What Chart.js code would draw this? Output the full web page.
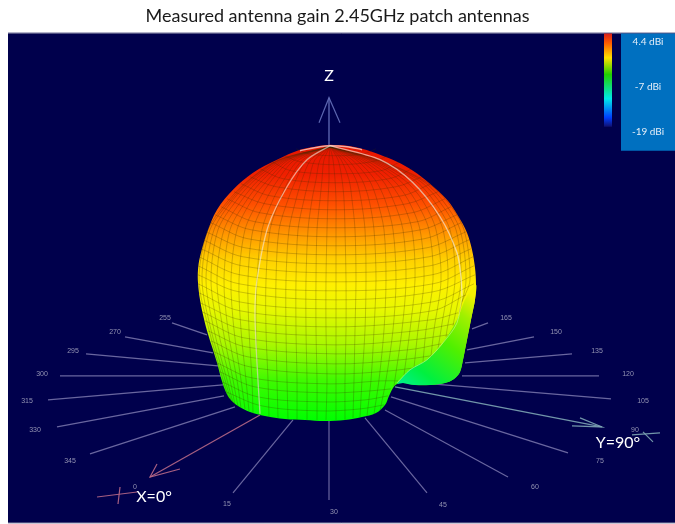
<!DOCTYPE html>
<html>
<head>
<meta charset="utf-8">
<title>Measured antenna gain</title>
<script src="https://cdn.jsdelivr.net/npm/chart.js@4/dist/chart.umd.min.js"></script>
<style>
    html, body { margin: 0; padding: 0; background: #ffffff; }
    canvas { display: block; }
</style>
</head>
<body>
<canvas id="gainChart" width="675" height="524"></canvas>
<script>
const chartTitle = 'Measured antenna gain 2.45GHz patch antennas';

const backdropX = [8, 675, 675, 8];
const backdropY = [33, 33, 523, 523];
const frameTopX = [8, 675];
const frameTopY = [33.5, 33.5];
const frameBottomX = [8, 675];
const frameBottomY = [523, 523];
const scaleBoxX = [621, 675, 675, 621];
const scaleBoxY = [34, 34, 151, 151];

const gainScaleLabels = ['4.4 dBi', '-7 dBi', '-19 dBi'];
const gainScaleLabelX = [648, 648, 648];
const gainScaleLabelY = [42, 87, 132];
const colorBarX = [608, 608];
const colorBarY = [34, 127];
const colorBarStops = [0, 0.1, 0.26, 0.44, 0.7, 0.9, 1];
const colorBarColors = ['#d8201c', '#ff5a00', '#ffe000', '#20d000', '#00e8e8', '#0040ff', '#101070'];

// Ticks round the horizontal plane
const tickLabels = ['255', '270', '295', '300', '315', '330', '345', '0', '15', '30', '45', '60', '75', '90', '105', '120', '135', '150', '165'];
const tickLabelX = [165, 115, 73, 42, 27, 35, 70, 135, 227, 334, 443, 535, 600, 635, 643, 628, 597, 556, 506];
const tickLabelY = [318, 332, 351, 374, 401, 430, 461, 487, 504, 512, 505, 487, 461, 430, 401, 374, 351, 332, 318];

const rayOuterX = [172, 125, 86, 60, 48, 57, 90, 233, 329, 427, 508, 568, 611, 599, 572, 534, 488];
const rayOuterY = [323, 337, 354, 376, 400, 427, 454, 493, 500, 493, 477, 453, 399, 376, 354, 337, 323];
const rayInnerX = [207, 213, 218, 222, 223, 224, 235, 293, 329, 365, 385, 391, 420, 462, 465, 467, 472];
const rayInnerY = [335, 353, 366, 376, 385, 396, 407, 420, 421, 418, 410, 397, 383, 376, 363, 350, 329];

// Axis arrows
const zAxisX = [329, 329];
const zAxisY = [146, 98];
const zHeadX = [319, 329, 340];
const zHeadY = [123, 98, 123];
const xAxisX = [260, 150];
const xAxisY = [415, 477];
const xHeadX = [157, 150, 180];
const xHeadY = [464, 477, 469];
const xCrossAX = [97, 137];
const xCrossAY = [497, 492];
const xCrossBX = [120, 118];
const xCrossBY = [487, 504];
const yAxisX = [395, 602];
const yAxisY = [387, 427];
const yHeadX = [580, 602, 572];
const yHeadY = [418, 427, 426];
const yCrossAX = [660, 632];
const yCrossAY = [433, 435];
const yCrossBX = [643, 653];
const yCrossBY = [432, 442];

const axisLabels = ['Z', 'X=0°', 'Y=90°'];
const axisLabelX = [329, 154, 618];
const axisLabelY = [76, 497, 443];

// Radiation pattern silhouette, clockwise from the crown
const outlineX = [330, 347, 362, 380, 397, 413, 430, 447, 458, 467, 472, 475, 476, 475, 472, 469, 466, 463, 460, 454, 445, 430, 415, 403, 397, 393, 389, 385, 376, 362, 345, 325, 305, 285, 265, 250, 238, 230, 225, 221, 217, 212, 207, 203, 200, 198, 198, 200, 207, 217, 233, 253, 277, 300, 320];
const outlineY = [145, 146, 149, 155, 162, 171, 184, 200, 216, 233, 250, 268, 285, 300, 315, 330, 345, 360, 372, 379, 383, 385, 385, 383, 384, 388, 396, 405, 413, 417, 420, 421, 420, 419, 416, 412, 406, 399, 390, 378, 363, 347, 331, 315, 300, 283, 270, 257, 233, 210, 190, 173, 160, 150, 146];

// Back lobe seen under the crease
const lobeX = [397, 410, 427, 443, 457, 466, 476, 475, 472, 469, 466, 463, 460, 454, 445, 430, 415, 403];
const lobeY = [384, 370, 360, 343, 320, 298, 285, 300, 315, 330, 345, 360, 372, 379, 383, 385, 385, 383];
const lobeStops = [0, 0.2, 0.5, 0.75, 0.92];
const lobeColors = ['#00f090', '#00f040', '#50f000', '#a0f000', '#f4f000'];

const gainStopY = [146, 175, 205, 235, 260, 285, 310, 345, 380, 420];
const gainStopColors = ['#e61400', '#f02000', '#ff5000', '#ff9800', '#ffd000', '#fff000', '#e8f800', '#a8f800', '#40fa00', '#00ff00'];

// Latitude rows of the mesh
const rowX = [
    [296, 308, 336, 364, 376], [284, 300, 336, 372, 388], [272, 291, 336, 381, 400],
    [260, 283, 336, 389, 412], [250, 276, 336, 396, 422], [241, 270, 336, 402, 431],
    [234, 265, 336, 407, 438], [227, 260, 336, 412, 445], [221, 255, 336, 417, 451],
    [215, 251, 336, 421, 457], [211, 248, 336, 424, 461], [206, 245, 336, 427, 466],
    [203, 243, 336, 429, 469], [201, 242, 336, 430, 471], [199, 240, 336, 432, 473],
    [198, 239, 336, 433, 474], [198, 239, 336, 433, 475], [198, 239, 336, 433, 474],
    [199, 240, 336, 432, 466], [200, 241, 336, 431, 458], [202, 242, 336, 416, 454],
    [205, 244, 336, 412, 448], [208, 246, 336, 408, 441], [211, 248, 334, 400, 431],
    [214, 250, 332, 390, 414], [217, 252, 330, 380, 398], [220, 255, 326, 370, 391],
    [222, 258, 322, 365, 388], [226, 262, 320, 360, 384]
];
const rowY = [
    [149, 154, 156, 154, 149], [156, 162, 165, 162, 156], [162, 171, 174, 171, 162],
    [169, 179, 183, 179, 169], [177, 187, 192, 187, 177], [184, 196, 201, 196, 184],
    [192, 204, 210, 204, 192], [199, 213, 219, 213, 199], [207, 222, 228, 222, 207],
    [215, 230, 237, 230, 215], [223, 239, 246, 239, 223], [232, 248, 255, 248, 232],
    [240, 257, 264, 257, 240], [249, 266, 273, 266, 249], [257, 275, 282, 275, 257],
    [266, 284, 291, 284, 266], [275, 292, 300, 292, 275], [284, 302, 309, 302, 284],
    [293, 311, 318, 311, 295], [303, 320, 327, 320, 313], [312, 329, 336, 331, 324],
    [321, 338, 345, 340, 335], [331, 347, 354, 350, 344], [341, 357, 364, 360, 356],
    [352, 367, 374, 371, 368], [363, 378, 384, 381, 381], [372, 387, 393, 391, 389],
    [382, 397, 402, 400, 396], [392, 406, 411, 409, 405]
];

// Meridians of the mesh: x at each of these heights, then where each one ends
const meridianY = [147, 160, 180, 200, 230, 280, 330, 380];
const meridianX = [
    [330, 279, 249, 229, 208, 199, 209, 223], [330, 280, 250, 231, 210, 202, 211, 225],
    [330, 281, 252, 233, 214, 206, 214, 227], [330, 283, 255, 237, 218, 211, 218, 230],
    [330, 285, 259, 242, 224, 217, 223, 233], [330, 287, 263, 247, 230, 224, 228, 237],
    [330, 289, 268, 252, 237, 231, 234, 241], [330, 292, 272, 259, 245, 239, 241, 246],
    [330, 295, 278, 266, 253, 248, 249, 252], [330, 299, 284, 273, 262, 257, 256, 258],
    [330, 303, 289, 280, 270, 266, 266, 268], [330, 307, 296, 288, 279, 276, 276, 277],
    [330, 311, 302, 296, 289, 286, 286, 287], [330, 315, 309, 304, 298, 296, 296, 297],
    [330, 320, 316, 312, 308, 306, 306, 307], [330, 324, 322, 320, 317, 316, 316, 317],
    [330, 329, 329, 328, 327, 326, 326, 327], [330, 333, 335, 336, 336, 336, 336, 336],
    [330, 338, 342, 344, 345, 346, 346, 345], [330, 341, 349, 352, 355, 356, 355, 354],
    [330, 344, 356, 361, 365, 366, 365, 362], [330, 348, 362, 369, 374, 376, 374, 371],
    [330, 352, 369, 377, 384, 386, 384, 379], [330, 356, 375, 385, 393, 396, 393, 386],
    [330, 359, 382, 393, 403, 406, 402], [330, 362, 387, 401, 412, 415, 410],
    [330, 365, 393, 408, 420, 424, 418], [330, 368, 399, 415, 429, 433, 426],
    [330, 370, 404, 422, 436, 441, 434], [330, 372, 409, 428, 443, 448, 441],
    [330, 374, 414, 433, 450, 455, 447], [330, 376, 418, 438, 456, 461],
    [330, 377, 421, 442, 460, 466], [330, 378, 423, 446, 464, 470]
];
const meridianEndX = [229, 231, 233, 235, 238, 241, 245, 249, 253, 260, 269, 278, 288, 297, 307, 317, 326, 336, 345, 353, 360, 367, 374, 380, 394, 404, 414, 423, 431, 438, 446, 453, 459, 462];
const meridianEndY = [399, 401, 403, 405, 407, 408, 409, 411, 413, 415, 417, 418, 419, 420, 420, 420, 420, 420, 420, 418, 417, 416, 414, 411, 386, 375, 368, 362, 356, 349, 337, 326, 314, 302];

// Bright cut lines over the surface
const cutLeftX = [330, 307, 287, 268, 257, 255, 257, 260];
const cutLeftY = [146, 160, 187, 227, 280, 313, 363, 414];
const cutRightX = [330, 380, 413, 440, 457, 461, 462];
const cutRightY = [146, 160, 183, 217, 253, 277, 296];
const creaseX = [462, 457, 443, 427, 410, 397];
const creaseY = [296, 323, 343, 360, 370, 383];
const crownX = [300, 320, 330, 347, 362];
const crownY = [151, 147, 146, 147, 150];

function toPoints(xs, ys) {
    return xs.map((x, i) => ({ x: x, y: ys[i] }));
}

function lineSet(xs, ys, color, width, tension) {
    return {
        data: toPoints(xs, ys),
        showLine: true,
        pointRadius: 0,
        borderColor: color,
        borderWidth: width,
        tension: tension || 0,
        fill: false
    };
}

function shapeSet(xs, ys, color, tension) {
    return {
        data: toPoints(xs, ys),
        showLine: true,
        pointRadius: 0,
        borderWidth: 0,
        borderColor: 'transparent',
        backgroundColor: color,
        tension: tension || 0,
        fill: 'shape'
    };
}

// Surface colours run from top to bottom
function surfaceGradient(context) {
    const chart = context.chart;
    if (!chart.chartArea) return '#ffdc00';
    const yScale = chart.scales.y;
    const top = yScale.getPixelForValue(gainStopY[0]);
    const bottom = yScale.getPixelForValue(gainStopY[gainStopY.length - 1]);
    const gradient = chart.ctx.createLinearGradient(0, top, 0, bottom);
    gainStopY.forEach((y, i) => {
        gradient.addColorStop((y - gainStopY[0]) / (gainStopY[gainStopY.length - 1] - gainStopY[0]), gainStopColors[i]);
    });
    return gradient;
}

function lobeGradient(context) {
    const chart = context.chart;
    if (!chart.chartArea) return '#50f000';
    const { x: xScale, y: yScale } = chart.scales;
    const gradient = chart.ctx.createLinearGradient(
        xScale.getPixelForValue(lobeX[0]), yScale.getPixelForValue(lobeY[0]),
        xScale.getPixelForValue(lobeX[6]), yScale.getPixelForValue(lobeY[6])
    );
    lobeStops.forEach((stop, i) => gradient.addColorStop(stop, lobeColors[i]));
    return gradient;
}

function colorBarGradient(context) {
    const chart = context.chart;
    if (!chart.chartArea) return '#ffe000';
    const yScale = chart.scales.y;
    const gradient = chart.ctx.createLinearGradient(0, yScale.getPixelForValue(colorBarY[0]), 0, yScale.getPixelForValue(colorBarY[1]));
    colorBarStops.forEach((stop, i) => gradient.addColorStop(stop, colorBarColors[i]));
    return gradient;
}

const rayColor = 'rgba(150, 145, 195, 0.7)';
const xAxisColor = 'rgba(185, 105, 135, 0.9)';
const yAxisColor = 'rgba(125, 165, 180, 0.9)';
const zAxisColor = 'rgba(95, 105, 180, 0.95)';
const meshColor = 'rgba(60, 40, 0, 0.24)';

// Painter's order: first entry ends up at the back
const layers = [];
layers.push(shapeSet(backdropX, backdropY, '#00004c'));
layers.push(lineSet(frameTopX, frameTopY, '#8a8aa8', 1));
layers.push(lineSet(frameBottomX, frameBottomY, '#8a8aa8', 1));
layers.push(shapeSet(scaleBoxX, scaleBoxY, '#0070c0'));
layers.push(lineSet(colorBarX, colorBarY, colorBarGradient, 8));

rayOuterX.forEach((x, i) => {
    layers.push(lineSet([x, rayInnerX[i]], [rayOuterY[i], rayInnerY[i]], rayColor, 1.2));
});
layers.push(lineSet(xAxisX, xAxisY, xAxisColor, 1.2));
layers.push(lineSet(xHeadX, xHeadY, xAxisColor, 1.2));
layers.push(lineSet(xCrossAX, xCrossAY, xAxisColor, 1.2));
layers.push(lineSet(xCrossBX, xCrossBY, xAxisColor, 1.2));
layers.push(lineSet(yAxisX, yAxisY, yAxisColor, 1.4));
layers.push(lineSet(yHeadX, yHeadY, yAxisColor, 1.2));
layers.push(lineSet(yCrossAX, yCrossAY, yAxisColor, 1.2));
layers.push(lineSet(yCrossBX, yCrossBY, yAxisColor, 1.2));
layers.push(lineSet(zAxisX, zAxisY, zAxisColor, 1.4));
layers.push(lineSet(zHeadX, zHeadY, zAxisColor, 1.2));

layers.push(shapeSet(outlineX, outlineY, surfaceGradient, 0.35));
rowX.forEach((xs, i) => {
    layers.push(lineSet(xs, rowY[i], meshColor, 1, 0.35));
});
meridianX.forEach((xs, i) => {
    const ys = meridianY.slice(0, xs.length).concat(meridianEndY[i]);
    layers.push(lineSet(xs.concat(meridianEndX[i]), ys, meshColor, 1, 0.3));
});
layers.push(shapeSet(lobeX, lobeY, lobeGradient, 0.3));
layers.push(lineSet(cutLeftX, cutLeftY, 'rgba(245, 235, 220, 0.6)', 1.3, 0.3));
layers.push(lineSet(cutRightX, cutRightY, 'rgba(245, 235, 220, 0.65)', 1.4, 0.3));
layers.push(lineSet(creaseX, creaseY, 'rgba(235, 245, 200, 0.45)', 1, 0.3));
layers.push(lineSet(crownX, crownY, 'rgba(245, 235, 230, 0.7)', 1.4, 0.3));

// Text that sits on the picture
const pictureText = {
    id: 'pictureText',
    afterDatasetsDraw(chart) {
        const { ctx, scales } = chart;
        const put = (labels, xs, ys, font, color) => {
            ctx.font = font;
            ctx.fillStyle = color;
            labels.forEach((label, i) => {
                ctx.fillText(label, scales.x.getPixelForValue(xs[i]), scales.y.getPixelForValue(ys[i]));
            });
        };
        ctx.save();
        ctx.textAlign = 'center';
        ctx.textBaseline = 'middle';
        put(tickLabels, tickLabelX, tickLabelY, '7px "Liberation Sans"', 'rgba(170, 170, 195, 0.85)');
        put(gainScaleLabels, gainScaleLabelX, gainScaleLabelY, '10px Lato', '#e4eef8');
        put(axisLabels, axisLabelX, axisLabelY, '16px Lato', '#ffffff');
        ctx.restore();
    }
};

new Chart(document.getElementById('gainChart'), {
    type: 'scatter',
    data: { datasets: layers.reverse() },
    options: {
        responsive: false,
        animation: false,
        events: [],
        layout: { padding: 0 },
        plugins: {
            legend: { display: false },
            tooltip: { enabled: false },
            title: {
                display: true,
                text: chartTitle,
                color: '#1a1a1a',
                font: { family: 'Lato', size: 18, weight: 'normal' },
                padding: { top: 5, bottom: 6 }
            }
        },
        scales: {
            x: { type: 'linear', min: 0, max: 675, display: false },
            y: { type: 'linear', min: 33, max: 524, reverse: true, display: false }
        }
    },
    plugins: [pictureText]
});
</script>
</body>
</html>
